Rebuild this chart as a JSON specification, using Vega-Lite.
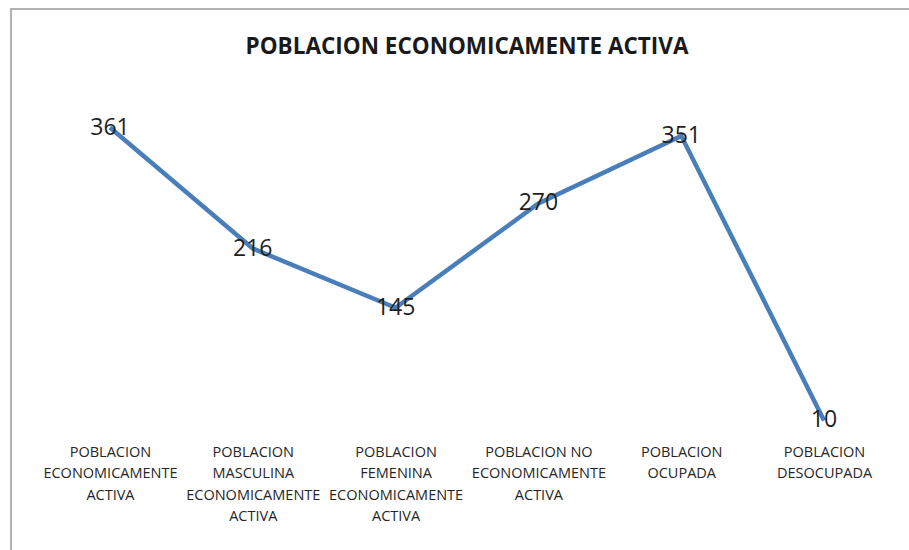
{
  "$schema": "https://vega.github.io/schema/vega-lite/v6.json",
  "autosize": "none",
  "padding": {"left": 11, "top": 9, "right": 0, "bottom": 0},
  "width": 912,
  "height": 545,
  "background": "white",
  "config": {
    "view": {"stroke": "#9a9a9a", "strokeWidth": 1.5},
    "font": "Open Sans"
  },
  "title": {
    "text": "POBLACION ECONOMICAMENTE ACTIVA",
    "font": "Open Sans",
    "fontSize": 22.5,
    "fontWeight": "bold",
    "color": "#1a1a1a",
    "anchor": "middle",
    "baseline": "middle",
    "offset": -60
  },
  "data": {
    "values": [
      {"categoria": "POBLACION|ECONOMICAMENTE|ACTIVA", "valor": 361},
      {"categoria": "POBLACION|MASCULINA|ECONOMICAMENTE|ACTIVA", "valor": 216},
      {"categoria": "POBLACION|FEMENINA|ECONOMICAMENTE|ACTIVA", "valor": 145},
      {"categoria": "POBLACION  NO|ECONOMICAMENTE|ACTIVA", "valor": 270},
      {"categoria": "POBLACION|OCUPADA", "valor": 351},
      {"categoria": "POBLACION|DESOCUPADA", "valor": 10}
    ]
  },
  "encoding": {
    "x": {
      "field": "categoria",
      "type": "nominal",
      "sort": null,
      "scale": {"type": "point", "padding": 0.693},
      "axis": {
        "title": null,
        "orient": "bottom",
        "offset": -109,
        "domain": false,
        "ticks": false,
        "grid": false,
        "labelAngle": 0,
        "labelPadding": 0,
        "labelBaseline": "top",
        "labelAlign": "center",
        "labelFont": "Open Sans",
        "labelFontSize": 14.5,
        "labelColor": "#262626",
        "labelLineHeight": 21.5,
        "labelLimit": 300,
        "labelOverlap": false,
        "labelExpr": "split(datum.label, '|')"
      }
    },
    "y": {
      "field": "valor",
      "type": "quantitative",
      "scale": {"domain": [-150, 503], "nice": false, "zero": false},
      "axis": null
    }
  },
  "layer": [
    {
      "mark": {"type": "line", "color": "#4a7ebb", "strokeWidth": 4.5, "strokeJoin": "miter", "strokeCap": "butt"}
    },
    {
      "mark": {"type": "text", "font": "Open Sans", "fontSize": 23, "color": "#1f1f1f", "align": "center", "baseline": "middle"},
      "encoding": {"text": {"field": "valor", "type": "quantitative"}}
    }
  ]
}
